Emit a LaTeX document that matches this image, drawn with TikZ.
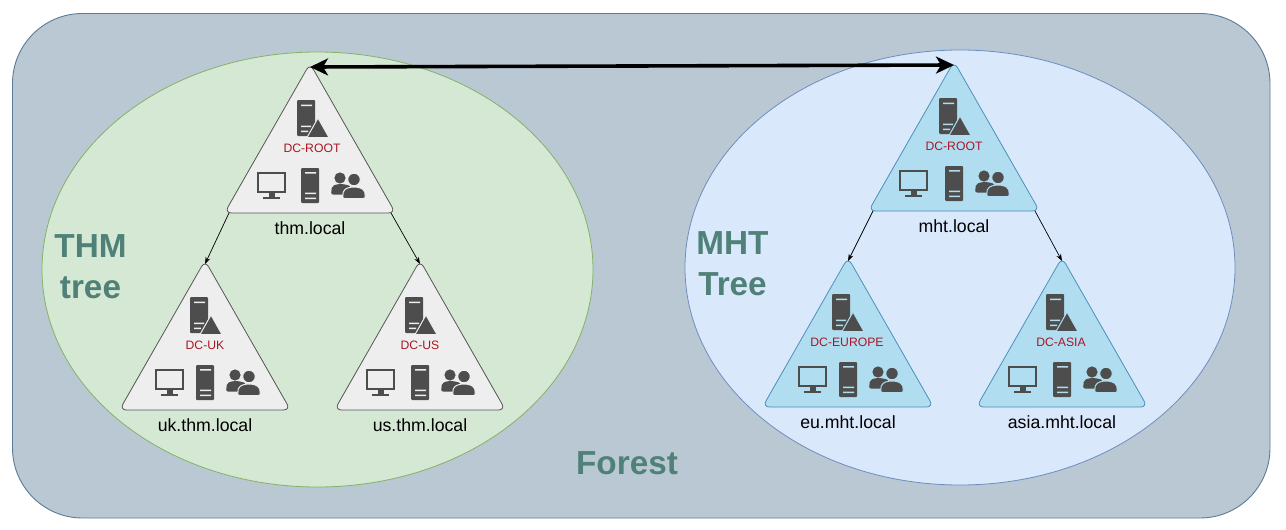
\documentclass[tikz,border=0pt]{standalone}
\usepackage{fontspec}
\setmainfont{Liberation Sans}
\usetikzlibrary{arrows.meta}
\definecolor{forestfill}{HTML}{BAC8D3}
\definecolor{forestline}{HTML}{5B7C99}
\definecolor{greenfill}{HTML}{D5E8D4}
\definecolor{greenline}{HTML}{82B366}
\definecolor{bluefill}{HTML}{DAE8FC}
\definecolor{blueline}{HTML}{6C8EBF}
\definecolor{greyfill}{HTML}{EEEEEE}
\definecolor{greyline}{HTML}{555555}
\definecolor{cyanfill}{HTML}{B1DDF0}
\definecolor{cyanline}{HTML}{4A90B8}
\definecolor{icon}{HTML}{4D4D4D}
\definecolor{dcred}{HTML}{A81726}
\definecolor{title}{HTML}{4F8178}
\tikzset{
  x=1pt,y=-1pt,
  titletext/.style={text=title,font=\bfseries\fontsize{33.3}{41}\selectfont,align=center,inner sep=0pt},
  dclabel/.style={text=dcred,font=\fontsize{12.2}{14}\selectfont,inner sep=0pt},
  domainname/.style={text=black,font=\fontsize{17.7}{20}\selectfont,inner sep=0pt},
  link/.style={-{Stealth[length=7pt,width=5pt]},black,line width=0.7pt},
  peer/.style={{Stealth[length=18pt,width=17pt,inset=5pt]}-{Stealth[length=18pt,width=17pt,inset=5pt]},black,line width=3.6pt},
}
% #1 name, #2 x, #3 y, #4 fill, #5 line, #6 label, #7 domain, #8 server dx, #9 monitor dx
\newcommand{\domaintri}[9]{%
\begin{scope}[shift={(#2,#3)}]
  \draw[fill=#4,draw=#5,line width=0.8pt,rounded corners=7pt] (0,-2.5) -- (85.5,147) -- (-85.5,147) -- cycle;
  \coordinate (#1-apex) at (0,1);
  \coordinate (#1-l) at (-81,147);
  \coordinate (#1-r) at (81,147);
  % server with triangle
  \begin{scope}[shift={(#8,0)}]
    \fill[icon,rounded corners=1pt] (0,34) rectangle (18,70);
    \fill[#4] (4,38.5) rectangle (15,40) (4,59.5) rectangle (14,61) (4,64.5) rectangle (11,66);
    \fill[icon,draw=#4,line width=1pt,line join=round] (21,52) -- (32,71.5) -- (10,71.5) -- cycle;
  \end{scope}
  \node[dclabel] (#1-dc) at (#8+15,82) {#6};
  % monitor
  \begin{scope}[shift={(#9,0)}]
    \draw[icon,line width=2.4pt] (1.2,107.2) rectangle (27.8,126);
    \fill[icon] (11.5,127) rectangle (17.5,131);
    \fill[icon] (6,130.5) rectangle (23,133);
  \end{scope}
  % tower
  \fill[icon,rounded corners=1pt] (-9,102) rectangle (9,137);
  \fill[#4] (-5,106) rectangle (6,107.5) (-5,126.5) rectangle (6,128) (-5,131.5) rectangle (6,133);
  % users
  \fill[icon] (30,112) circle (5.6);
  \fill[icon,rounded corners=2pt] (21,128.5) -- (22,120) -- (28,118) -- (33,118) -- (41,120) -- (42,128.5) -- cycle;
  \fill[icon,draw=#4,line width=1pt] (44,113.5) circle (6.3);
  \fill[icon,draw=#4,line width=1pt,rounded corners=2pt] (32.5,132.5) -- (33.5,124) -- (40,121) -- (48,121) -- (54.5,124) -- (55.5,132.5) -- cycle;
  \node[domainname] (#1-name) at (0,162) {#7};
\end{scope}}
\begin{document}
\begin{tikzpicture}
\useasboundingbox (0,0) rectangle (1286,530);
\fill[white] (0,0) rectangle (1286,530);
\draw[fill=forestfill,draw=forestline,line width=0.9pt,rounded corners=70pt] (12.5,13.5) rectangle (1270,518);
\draw[fill=greenfill,draw=greenline,line width=0.8pt] (317.5,269.5) ellipse [x radius=275.5,y radius=217.5];
\draw[fill=bluefill,draw=blueline,line width=0.8pt] (960,267.5) ellipse [x radius=275,y radius=217.5];
\domaintri{thm}{310}{66}{greyfill}{greyline}{DC-ROOT}{thm.local}{-13}{-53}
\domaintri{uk}{205}{263}{greyfill}{greyline}{DC-UK}{uk.thm.local}{-15}{-50}
\domaintri{us}{420}{263}{greyfill}{greyline}{DC-US}{us.thm.local}{-15}{-54}
\domaintri{mht}{954}{64}{cyanfill}{cyanline}{DC-ROOT}{mht.local}{-15}{-55}
\domaintri{eu}{848}{260}{cyanfill}{cyanline}{DC-EUROPE}{eu.mht.local}{-16}{-50}
\domaintri{asia}{1062}{260}{cyanfill}{cyanline}{DC-ASIA}{asia.mht.local}{-16}{-54}
\draw[link] (thm-l) -- (uk-apex);
\draw[link] (thm-r) -- (us-apex);
\draw[link] (mht-l) -- (eu-apex);
\draw[link] (mht-r) -- (asia-apex);
\draw[peer] (thm-apex) -- (mht-apex);
\node[titletext] (thmtitle) at (90.5,267) {THM\\tree};
\node[titletext] (mhttitle) at (732.5,264) {MHT\\Tree};
\node[titletext] (foresttitle) at (627,463) {Forest};
\end{tikzpicture}
\end{document}
